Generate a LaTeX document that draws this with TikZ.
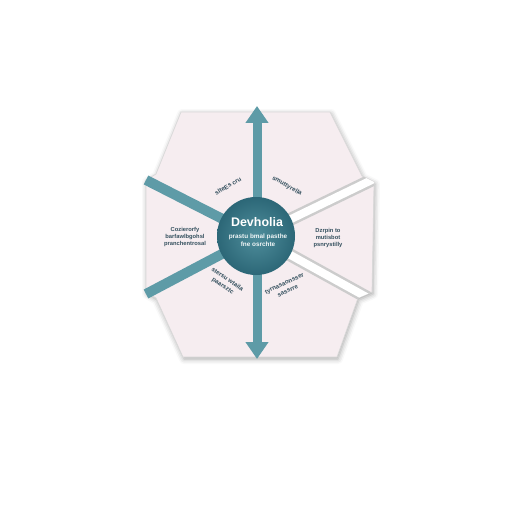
\documentclass[tikz,border=0pt]{standalone}
\usepackage{fontspec}
\setmainfont{Liberation Sans}
\usetikzlibrary{arrows.meta,shadows.blur,positioning,calc}

\definecolor{spoketeal}{HTML}{5E9BA7}
\definecolor{hubdark}{HTML}{2C6777}
\definecolor{hublight}{HTML}{4F8E9C}
\definecolor{panelpink}{HTML}{F6EDF0}
\definecolor{labelink}{HTML}{34505E}

\newcommand{\hexoutline}{(181,112) -- (330,112) -- (362,176) -- (374,182)
    -- (372,292) -- (358,298) -- (337,357) -- (183,357)
    -- (156,298) -- (146,292) -- (146,180) -- (156,174) -- cycle}

\tikzset{
  panel/.style={fill=panelpink, draw=gray!30, line width=0.7bp,
    blur shadow={shadow xshift=1bp, shadow yshift=-2bp,
      shadow blur radius=5bp, shadow opacity=35}},
  spoke/.style={draw=spoketeal, line width=10bp},
  gapshade/.style={draw=gray!40, line width=13bp},
  gapline/.style={draw=white, line width=8bp},
  hub/.style={circle, minimum size=78bp, inner sep=0pt,
    inner color=hublight, outer color=hubdark},
  paneltext/.style={align=center, text=labelink,
    font=\fontsize{5.8}{6.8}\selectfont\bfseries},
  spoketext/.style={align=center, text=labelink,
    font=\fontsize{6.2}{8}\selectfont\bfseries},
}

\begin{document}
\begin{tikzpicture}[x=1bp,y=-1bp]
  \useasboundingbox (0,0) rectangle (512,512);

  % Panels
  \path[panel] \hexoutline;

  % Spokes
  \coordinate (hubc) at (256,236);
  \coordinate (tipN) at (257,106);
  \coordinate (tipS) at (257,359);
  \coordinate (endUL) at (146,180);
  \coordinate (endLL) at (146,294);
  \coordinate (endUR) at (380,176);
  \coordinate (endLR) at (370,299);
  \begin{scope}
    \clip \hexoutline;
    \draw[gapshade] (hubc) -- (endUR);
    \draw[gapline] (hubc) -- (endUR);
    \draw[gapshade] (hubc) -- (endLR);
    \draw[gapline] (hubc) -- (endLR);
  \end{scope}
  \draw[spoke] (hubc) -- (endUL);
  \draw[spoke] (hubc) -- (endLL);
  \draw[spoke, line width=9bp,
    {Triangle[width=22bp,length=17bp]}-{Triangle[width=22bp,length=17bp]}]
    (tipN) -- (tipS);

  % Hub
  \node[hub] (hub) at (hubc) {};
  \node[text=white, font=\fontsize{12.5}{14}\selectfont\bfseries]
    (title) at (257,222) {Devholia};
  \node[text=white!92!hublight, align=center,
    font=\fontsize{6.4}{8}\selectfont\bfseries]
    (subtitle) at (258,240) {prastu bmal pasthe\\fne osrchte};

  % Panel texts
  \node[paneltext] (leftlbl) at (185,237)
    {Cozierorfy\\barfawlbgohsl\\pranchentrosal};
  \node[paneltext] (rightlbl) at (328,238)
    {Dzrpin to\\mutisbot\\psnrystilly};

  % Spoke texts
  \node[spoketext, rotate=31] (ullbl) at (228,186) {slteEs cru};
  \node[spoketext, rotate=-30] (urlbl) at (287,186) {smuttyrella};
  \node[spoketext, rotate=-35] (lllbl) at (225,283) {stersu wtaila\\paarsztc};
  \node[spoketext, rotate=25] (lrlbl) at (286,287) {tyrnasaonsser\\sassrre};
\end{tikzpicture}
\end{document}
